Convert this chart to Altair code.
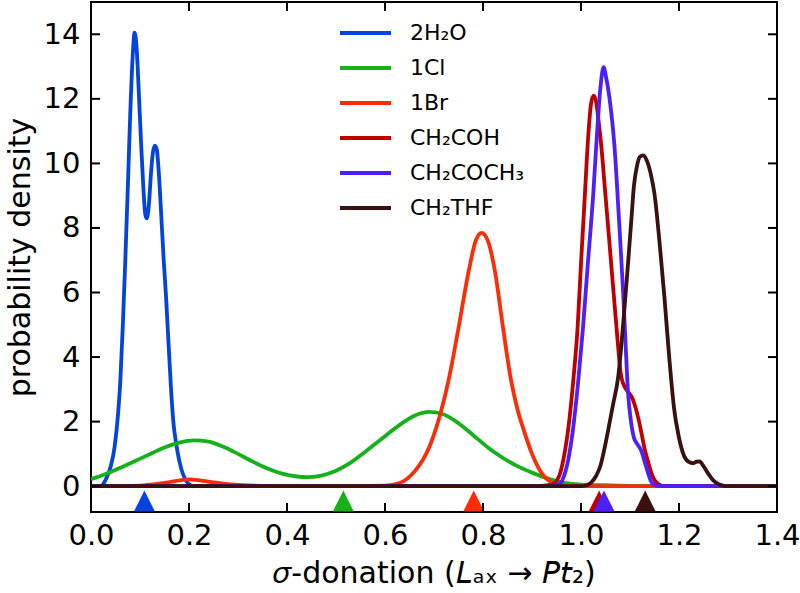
import altair as alt
import pandas as pd

names = ["2H₂O", "1Cl", "1Br", "CH₂COH", "CH₂COCH₃", "CH₂THF"]
colors = ["#0343df", "#15b01a", "#fd2c06", "#c00000", "#4c1fff", "#3a1010"]

h2o_x = [0.0, 0.02, 0.03, 0.04, 0.048, 0.055, 0.06, 0.065, 0.07, 0.075, 0.08, 0.085, 0.089,
         0.093, 0.097, 0.102, 0.107, 0.111, 0.114, 0.118, 0.122, 0.126, 0.13, 0.134, 0.138,
         0.143, 0.148, 0.153, 0.158, 0.163, 0.168, 0.174, 0.18, 0.187, 0.195, 0.203, 0.21,
         0.22, 1.4]
h2o_y = [0, 0, 0.2, 0.6, 1.2, 2.2, 3.3, 5.0, 7.0, 9.2, 11.5, 13.3, 14.05,
         13.6, 12.4, 10.7, 9.2, 8.4, 8.3, 8.7, 9.6, 10.3, 10.55, 10.45, 9.8,
         8.5, 7.1, 5.9, 4.5, 3.1, 2.0, 1.3, 0.8, 0.4, 0.15, 0.03, 0,
         0, 0]

cl_x = [0.0, 0.03, 0.06, 0.09, 0.12, 0.15, 0.18, 0.21, 0.24, 0.27, 0.3, 0.33, 0.36, 0.39,
        0.42, 0.44, 0.47, 0.5, 0.53, 0.56, 0.6, 0.63, 0.66, 0.69, 0.72, 0.75, 0.78, 0.81,
        0.84, 0.87, 0.9, 0.93, 0.96, 1.0, 1.05, 1.1, 1.15, 1.4]
cl_y = [0.22, 0.38, 0.57, 0.78, 0.99, 1.2, 1.35, 1.42, 1.38, 1.22, 1.0, 0.76, 0.55, 0.39,
        0.3, 0.28, 0.33, 0.48, 0.73, 1.07, 1.55, 1.9, 2.18, 2.3, 2.22, 1.95, 1.58, 1.2,
        0.88, 0.62, 0.42, 0.25, 0.12, 0.05, 0.03, 0.01, 0, 0]

br_x = [0.0, 0.1, 0.15, 0.2, 0.25, 0.3, 0.35, 0.5, 0.6, 0.63, 0.66, 0.69, 0.714, 0.73,
        0.75, 0.77, 0.785, 0.797, 0.81, 0.825, 0.84, 0.857, 0.87, 0.884, 0.9, 0.912, 0.925,
        0.94, 0.96, 0.98, 1.4]
br_y = [0, 0.02, 0.1, 0.21, 0.12, 0.04, 0.01, 0, 0.02, 0.1, 0.45, 1.2, 2.3, 3.3,
        4.9, 6.6, 7.6, 7.85, 7.6, 6.6, 5.0, 3.3, 2.4, 1.7, 1.0, 0.6, 0.3,
        0.12, 0.03, 0, 0]

coh_x = [0.0, 0.9, 0.94, 0.955, 0.965, 0.975, 0.985, 0.993, 1.0, 1.008, 1.015, 1.021, 1.026,
         1.031, 1.036, 1.041, 1.05, 1.061, 1.072, 1.082, 1.09, 1.097, 1.104, 1.11, 1.117,
         1.124, 1.13, 1.137, 1.145, 1.152, 1.16, 1.17, 1.4]
coh_y = [0, 0, 0.05, 0.3, 0.9, 1.9, 3.4, 4.9, 6.9, 9.05, 10.9, 11.9, 12.1,
         11.9, 11.3, 10.6, 9.0, 7.0, 5.0, 3.4, 3.05, 2.9, 2.75, 2.5, 2.1,
         1.6, 1.15, 0.75, 0.35, 0.15, 0.05, 0, 0]

coch3_x = [0.0, 0.94, 0.955, 0.965, 0.975, 0.984, 0.994, 1.004, 1.014, 1.025, 1.033, 1.04,
           1.046, 1.052, 1.06, 1.068, 1.077, 1.086, 1.091, 1.096, 1.102, 1.108, 1.115, 1.123,
           1.13, 1.137, 1.143, 1.15, 1.16, 1.4]
coch3_y = [0, 0, 0.05, 0.3, 0.9, 1.8, 3.2, 4.9, 6.9, 9.05, 11.0, 12.4,
           12.98, 12.6, 11.8, 10.6, 8.4, 6.0, 4.4, 2.9, 2.0, 1.5, 1.3, 1.1,
           0.75, 0.4, 0.15, 0.04, 0, 0]

thf_x = [0.0, 1.0, 1.01, 1.02, 1.03, 1.04, 1.047, 1.055, 1.065, 1.076, 1.086, 1.096, 1.103,
         1.108, 1.114, 1.12, 1.127, 1.134, 1.142, 1.15, 1.16, 1.17, 1.18, 1.19, 1.2, 1.21,
         1.22, 1.229, 1.236, 1.242, 1.25, 1.26, 1.27, 1.28, 1.29, 1.3, 1.4]
thf_y = [0, 0, 0.02, 0.1, 0.3, 0.65, 1.1, 1.7, 2.5, 3.4, 5.0, 6.9, 8.3,
         9.3, 9.9, 10.2, 10.25, 10.1, 9.7, 9.05, 7.6, 5.9, 4.0, 2.4, 1.5, 0.95,
         0.75, 0.71, 0.76, 0.77, 0.62, 0.38, 0.18, 0.07, 0.02, 0, 0]

marker_x = [0.109, 0.515, 0.781, 1.037, 1.047, 1.131]
marker_y = [-0.46, -0.46, -0.46, -0.46, -0.46, -0.46]

x_ticks = [0.0, 0.2, 0.4, 0.6, 0.8, 1.0, 1.2, 1.4]
y_ticks = [0, 2, 4, 6, 8, 10, 12, 14]

series = [(names[0], h2o_x, h2o_y), (names[1], cl_x, cl_y), (names[2], br_x, br_y),
          (names[3], coh_x, coh_y), (names[4], coch3_x, coch3_y), (names[5], thf_x, thf_y)]

W, H = 686, 510
TL = 9
FONT = "DejaVu Sans"

xs = alt.Scale(domain=[0, 1.4], nice=False, zero=False)
ys = alt.Scale(domain=[-0.8, 15], nice=False, zero=False)
cscale = alt.Scale(domain=names, range=colors)

x_axis = alt.Axis(values=x_ticks, format=".1f", title="𝜎-donation (𝘓ₐₓ → 𝘗𝘵₂)",
                  ticks=False, domain=False, grid=False, labelPadding=9, titlePadding=8,
                  labelFlush=False, labelOverlap=False)
y_axis = alt.Axis(values=y_ticks, format="d", title="probability density",
                  ticks=False, domain=False, grid=False, labelPadding=11, titlePadding=8,
                  labelFlush=False, labelOverlap=False)

legend = alt.Legend(orient="none", legendX=247, legendY=20, title=None, symbolType="stroke",
                    symbolSize=2601, symbolStrokeWidth=4, labelFontSize=22, labelFont=FONT,
                    labelColor="black", clipHeight=22, rowPadding=13, labelOffset=17,
                    padding=0, symbolOpacity=1)

layers = []
for name, xv, yv in series:
    df = pd.DataFrame({"x": xv, "y": yv, "series": name})
    layers.append(
        alt.Chart(df).mark_line(strokeWidth=3.8, clip=True, interpolate="monotone").encode(
            x=alt.X("x:Q", scale=xs, axis=x_axis),
            y=alt.Y("y:Q", scale=ys, axis=y_axis),
            color=alt.Color("series:N", scale=cscale, legend=legend),
        )
    )

mk = pd.DataFrame({"series": names, "mx": marker_x, "my": marker_y})
for name in names:
    layers.append(
        alt.Chart(mk[mk.series == name]).mark_point(shape="M-1,1L0,-1L1,1Z", filled=True,
                                                    size=441, opacity=1, strokeWidth=0,
                                                    clip=True).encode(
            x=alt.X("mx:Q", scale=xs, axis=x_axis),
            y=alt.Y("my:Q", scale=ys, axis=y_axis),
            fill=alt.Fill("series:N", scale=cscale, legend=None),
        )
    )

xt = pd.DataFrame({"v": x_ticks})
yt = pd.DataFrame({"v": y_ticks})
rule = dict(color="black", strokeWidth=2)
layers += [
    alt.Chart(xt).mark_rule(**rule).encode(x=alt.X("v:Q", scale=xs, axis=x_axis),
                                           y=alt.value(H), y2=alt.value(H - TL)),
    alt.Chart(xt).mark_rule(**rule).encode(x=alt.X("v:Q", scale=xs, axis=x_axis),
                                           y=alt.value(0), y2=alt.value(TL)),
    alt.Chart(yt).mark_rule(**rule).encode(y=alt.Y("v:Q", scale=ys, axis=y_axis),
                                           x=alt.value(0), x2=alt.value(TL)),
    alt.Chart(yt).mark_rule(**rule).encode(y=alt.Y("v:Q", scale=ys, axis=y_axis),
                                           x=alt.value(W - TL), x2=alt.value(W)),
]

chart = alt.layer(*layers).properties(
    width=W, height=H,
    autosize=alt.AutoSizeParams(type="none"),
    padding={"left": 91, "top": 2, "right": 23, "bottom": 81},
    background="white",
).configure_view(stroke="black", strokeWidth=2).configure_axis(
    labelFont=FONT, titleFont=FONT, labelFontSize=29, titleFontSize=30,
    labelColor="black", titleColor="black", titleFontWeight="normal",
)

chart.save("out.html", embed_options={"renderer": "svg", "actions": False})
